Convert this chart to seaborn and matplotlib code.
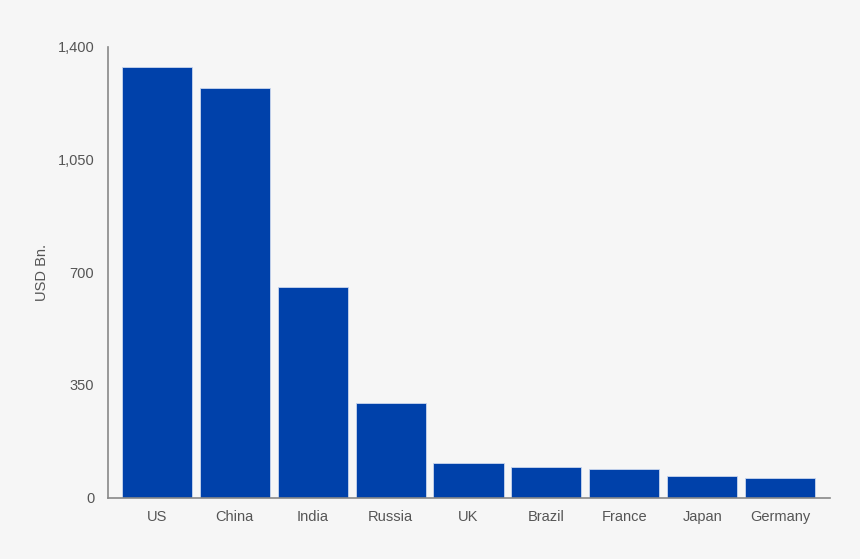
import pandas as pd
import matplotlib
matplotlib.use('Agg')
import matplotlib.pyplot as plt
import seaborn as sns

# datos
paises = ['US', 'China', 'India', 'Russia', 'UK', 'Brazil', 'France', 'Japan', 'Germany']
valores = [1338, 1274, 655, 294, 107, 96, 88, 68, 62]
ticks_y = [0, 350, 700, 1050, 1400]
etiquetas_y = ['0', '350', '700', '1,050', '1,400']

df = pd.DataFrame({'Pais': paises, 'Valor': valores})

sns.set_style('white')
plt.rcParams['font.family'] = ['Liberation Sans', 'DejaVu Sans']

fondo = '#f6f6f6'
fig = plt.figure(figsize=(8.6, 5.59), dpi=100, facecolor=fondo)
ax = fig.add_axes([0.1256, 0.1097, 0.8394, 0.8063])
ax.set_facecolor(fondo)

sns.barplot(data=df, x='Pais', y='Valor', color='#0041aa', saturation=1,
            width=0.9, edgecolor='#c9d6ee', linewidth=0.6, ax=ax)

ax.set_xlim(-0.628, 8.64)
ax.set_ylim(0, 1400)
ax.set_yticks(ticks_y)
ax.set_yticklabels(etiquetas_y)
ax.tick_params(axis='both', length=0, colors='#555555', labelsize=10.5)
ax.tick_params(axis='x', pad=9)
ax.tick_params(axis='y', pad=10)
ax.set_xlabel('')
ax.set_ylabel('USD Bn.', color='#555555', fontsize=10.5, labelpad=6)

for lado in ['top', 'right']:
    ax.spines[lado].set_visible(False)
for lado in ['left', 'bottom']:
    ax.spines[lado].set_color('#888888')
    ax.spines[lado].set_linewidth(1.2)

plt.savefig('out.png', dpi=100, facecolor=fondo)
